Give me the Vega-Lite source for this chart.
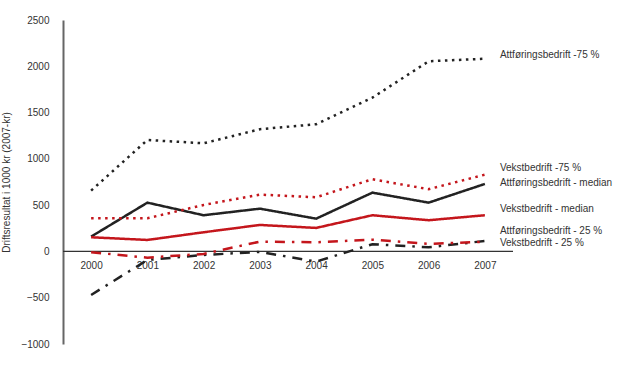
{
  "$schema": "https://vega.github.io/schema/vega-lite/v6.json",
  "autosize": "none",
  "padding": {"left": 63, "top": 20, "right": 107, "bottom": 22},
  "width": 450,
  "height": 324,
  "background": "white",
  "config": {
    "view": {"stroke": null},
    "font": "Liberation Sans",
    "axis": {"labelFont": "Liberation Sans", "titleFont": "Liberation Sans", "labelColor": "#333333", "titleColor": "#333333", "labelFontSize": 10, "titleFontSize": 10, "grid": false, "ticks": false}
  },
  "datasets": {
    "lines": [
      {"year": "2000", "series": "Attføringsbedrift -75 %", "firm": "Attføringsbedrift", "stat": "75", "value": 657},
      {"year": "2001", "series": "Attføringsbedrift -75 %", "firm": "Attføringsbedrift", "stat": "75", "value": 1204},
      {"year": "2002", "series": "Attføringsbedrift -75 %", "firm": "Attføringsbedrift", "stat": "75", "value": 1168},
      {"year": "2003", "series": "Attføringsbedrift -75 %", "firm": "Attføringsbedrift", "stat": "75", "value": 1320},
      {"year": "2004", "series": "Attføringsbedrift -75 %", "firm": "Attføringsbedrift", "stat": "75", "value": 1374},
      {"year": "2005", "series": "Attføringsbedrift -75 %", "firm": "Attføringsbedrift", "stat": "75", "value": 1661},
      {"year": "2006", "series": "Attføringsbedrift -75 %", "firm": "Attføringsbedrift", "stat": "75", "value": 2054},
      {"year": "2007", "series": "Attføringsbedrift -75 %", "firm": "Attføringsbedrift", "stat": "75", "value": 2082},
      {"year": "2000", "series": "Attføringsbedrift - median", "firm": "Attføringsbedrift", "stat": "median", "value": 160},
      {"year": "2001", "series": "Attføringsbedrift - median", "firm": "Attføringsbedrift", "stat": "median", "value": 527},
      {"year": "2002", "series": "Attføringsbedrift - median", "firm": "Attføringsbedrift", "stat": "median", "value": 391},
      {"year": "2003", "series": "Attføringsbedrift - median", "firm": "Attføringsbedrift", "stat": "median", "value": 462},
      {"year": "2004", "series": "Attføringsbedrift - median", "firm": "Attføringsbedrift", "stat": "median", "value": 354},
      {"year": "2005", "series": "Attføringsbedrift - median", "firm": "Attføringsbedrift", "stat": "median", "value": 635},
      {"year": "2006", "series": "Attføringsbedrift - median", "firm": "Attføringsbedrift", "stat": "median", "value": 527},
      {"year": "2007", "series": "Attføringsbedrift - median", "firm": "Attføringsbedrift", "stat": "median", "value": 729},
      {"year": "2000", "series": "Attføringsbedrift - 25 %", "firm": "Attføringsbedrift", "stat": "25", "value": -470},
      {"year": "2001", "series": "Attføringsbedrift - 25 %", "firm": "Attføringsbedrift", "stat": "25", "value": -92},
      {"year": "2002", "series": "Attføringsbedrift - 25 %", "firm": "Attføringsbedrift", "stat": "25", "value": -38},
      {"year": "2003", "series": "Attføringsbedrift - 25 %", "firm": "Attføringsbedrift", "stat": "25", "value": -5},
      {"year": "2004", "series": "Attføringsbedrift - 25 %", "firm": "Attføringsbedrift", "stat": "25", "value": -110},
      {"year": "2005", "series": "Attføringsbedrift - 25 %", "firm": "Attføringsbedrift", "stat": "25", "value": 78},
      {"year": "2006", "series": "Attføringsbedrift - 25 %", "firm": "Attføringsbedrift", "stat": "25", "value": 45},
      {"year": "2007", "series": "Attføringsbedrift - 25 %", "firm": "Attføringsbedrift", "stat": "25", "value": 113},
      {"year": "2000", "series": "Vekstbedrift -75 %", "firm": "Vekstbedrift", "stat": "75", "value": 358},
      {"year": "2001", "series": "Vekstbedrift -75 %", "firm": "Vekstbedrift", "stat": "75", "value": 358},
      {"year": "2002", "series": "Vekstbedrift -75 %", "firm": "Vekstbedrift", "stat": "75", "value": 502},
      {"year": "2003", "series": "Vekstbedrift -75 %", "firm": "Vekstbedrift", "stat": "75", "value": 614},
      {"year": "2004", "series": "Vekstbedrift -75 %", "firm": "Vekstbedrift", "stat": "75", "value": 585},
      {"year": "2005", "series": "Vekstbedrift -75 %", "firm": "Vekstbedrift", "stat": "75", "value": 780},
      {"year": "2006", "series": "Vekstbedrift -75 %", "firm": "Vekstbedrift", "stat": "75", "value": 672},
      {"year": "2007", "series": "Vekstbedrift -75 %", "firm": "Vekstbedrift", "stat": "75", "value": 829},
      {"year": "2000", "series": "Vekstbedrift - median", "firm": "Vekstbedrift", "stat": "median", "value": 153},
      {"year": "2001", "series": "Vekstbedrift - median", "firm": "Vekstbedrift", "stat": "median", "value": 124},
      {"year": "2002", "series": "Vekstbedrift - median", "firm": "Vekstbedrift", "stat": "median", "value": 207},
      {"year": "2003", "series": "Vekstbedrift - median", "firm": "Vekstbedrift", "stat": "median", "value": 286},
      {"year": "2004", "series": "Vekstbedrift - median", "firm": "Vekstbedrift", "stat": "median", "value": 254},
      {"year": "2005", "series": "Vekstbedrift - median", "firm": "Vekstbedrift", "stat": "median", "value": 391},
      {"year": "2006", "series": "Vekstbedrift - median", "firm": "Vekstbedrift", "stat": "median", "value": 337},
      {"year": "2007", "series": "Vekstbedrift - median", "firm": "Vekstbedrift", "stat": "median", "value": 391},
      {"year": "2000", "series": "Vekstbedrift - 25 %", "firm": "Vekstbedrift", "stat": "25", "value": -9},
      {"year": "2001", "series": "Vekstbedrift - 25 %", "firm": "Vekstbedrift", "stat": "25", "value": -67},
      {"year": "2002", "series": "Vekstbedrift - 25 %", "firm": "Vekstbedrift", "stat": "25", "value": -27},
      {"year": "2003", "series": "Vekstbedrift - 25 %", "firm": "Vekstbedrift", "stat": "25", "value": 106},
      {"year": "2004", "series": "Vekstbedrift - 25 %", "firm": "Vekstbedrift", "stat": "25", "value": 99},
      {"year": "2005", "series": "Vekstbedrift - 25 %", "firm": "Vekstbedrift", "stat": "25", "value": 127},
      {"year": "2006", "series": "Vekstbedrift - 25 %", "firm": "Vekstbedrift", "stat": "25", "value": 81},
      {"year": "2007", "series": "Vekstbedrift - 25 %", "firm": "Vekstbedrift", "stat": "25", "value": 105}
    ],
    "labels": [
      {"year": "2007", "label": "Attføringsbedrift -75 %", "value": 2122},
      {"year": "2007", "label": "Vekstbedrift -75 %", "value": 902},
      {"year": "2007", "label": "Attføringsbedrift - median", "value": 740},
      {"year": "2007", "label": "Vekstbedrift - median", "value": 459},
      {"year": "2007", "label": "Attføringsbedrift - 25 %", "value": 221},
      {"year": "2007", "label": "Vekstbedrift - 25 %", "value": 92}
    ],
    "zero": [{"value": 0}]
  },
  "layer": [
    {
      "data": {"name": "zero"},
      "mark": {"type": "rule", "color": "#333333", "strokeWidth": 1.2},
      "encoding": {
        "y": {"field": "value", "type": "quantitative", "scale": {"domain": [-1000, 2500], "nice": false},
              "axis": {"title": "Driftsresultat i 1000 kr (2007-kr)", "values": [-1000, -500, 0, 500, 1000, 1500, 2000, 2500], "format": "d",
                       "domainColor": "#666666", "domainWidth": 2, "labelPadding": 14, "titlePadding": 9, "titleFontWeight": "normal"}}
      }
    },
    {
      "data": {"name": "lines"},
      "mark": {"type": "line", "strokeWidth": 2.5},
      "encoding": {
        "x": {"field": "year", "type": "ordinal", "scale": {"type": "point", "padding": 0.5},
              "axis": {"title": null, "domain": false, "offset": -92, "labelPadding": 8, "labelAngle": 0}},
        "y": {"field": "value", "type": "quantitative", "scale": {"domain": [-1000, 2500], "nice": false},
              "axis": {"title": "Driftsresultat i 1000 kr (2007-kr)", "values": [-1000, -500, 0, 500, 1000, 1500, 2000, 2500], "format": "d",
                       "domainColor": "#666666", "domainWidth": 2, "labelPadding": 14, "titlePadding": 9, "titleFontWeight": "normal"}},
        "color": {"field": "firm", "type": "nominal", "scale": {"domain": ["Attføringsbedrift", "Vekstbedrift"], "range": ["#222222", "#c4161c"]}, "legend": null},
        "strokeDash": {"field": "stat", "type": "nominal", "scale": {"domain": ["75", "median", "25"], "range": [[2.5, 4.5], [1, 0], [10, 7, 2.5, 7]]}, "legend": null},
        "detail": {"field": "series"}
      }
    },
    {
      "data": {"name": "labels"},
      "mark": {"type": "text", "align": "left", "baseline": "middle", "dx": 15, "fontSize": 10, "color": "#333333", "font": "Liberation Sans"},
      "encoding": {
        "x": {"field": "year", "type": "ordinal"},
        "y": {"field": "value", "type": "quantitative"},
        "text": {"field": "label"}
      }
    }
  ]
}
